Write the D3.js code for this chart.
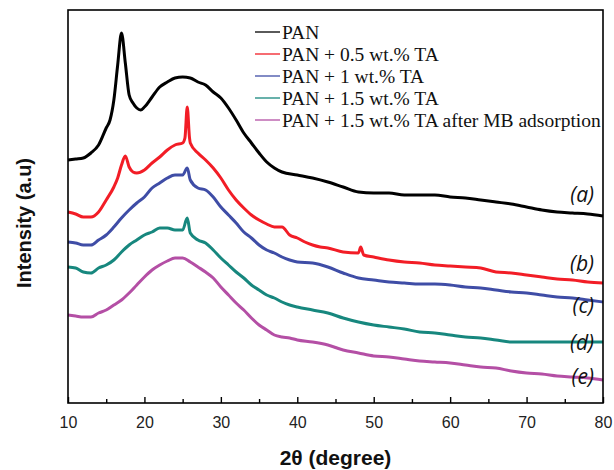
<!DOCTYPE html>
<html lang="en">
  <head>
    <meta charset="utf-8">
    <title>xrd</title>
    <script src="https://cdn.jsdelivr.net/npm/d3@7"></script>
    <style type="text/css">
      body { margin: 0; background: #fff; }
      .tick text { font-family: Arial, "Liberation Sans", sans-serif; font-size: 16px; fill: #222; }
      .axisTitle { font-family: Arial, "Liberation Sans", sans-serif; font-weight: bold; fill: #111; }
      .legendText { font-family: "Times New Roman", "Liberation Serif", serif; font-size: 19.5px; fill: #111; }
      .curveLabel { font-family: "Open Sans", sans-serif; font-style: italic; font-size: 21px; fill: #111; }
      .line { fill: none; stroke-width: 3; stroke-linejoin: round; }
    </style>
  </head>
  <body>
    <svg id="chart" width="614" height="470"></svg>
    <script type="text/javascript">
      // values: [2theta, intensity (a.u.)]
      var pan = [[10,243],[11,244],[12,245],[13,250],[14,258],[15,275],[15.5,283],[16,303],[16.5,338],[17,370],
        [17.5,340],[18,308],[18.5,300],[19,295],[19.5,293],[20,296],[21,306],[22,316],[23,321],[24,325],[25,326],
        [26,325],[27,321],[28,318],[29,311],[30,305],[31,295],[32,283],[33,270],[34,260],[35,250],[36,241],
        [37,235],[38,231],[40,228],[42,225],[44,221],[46,216],[48,211],[50,210],[52,210],[54,208],[56,208],
        [58,208],[60,206],[62,205],[64,203],[66,201],[68,199],[70,196],[72,193],[74,191],[76,190],[78,189],[80,187]];

      var ta05 = [[10,191],[11,189],[12,186],[13,186],[14,191],[15,203],[16,216],[16.5,225],[17,238],[17.5,247],
        [18,236],[18.5,231],[19,230],[20,233],[21,240],[22,246],[23,253],[24,258],[25,260],[25.3,265],[25.6,296],
        [25.9,265],[26,260],[27,250],[28,243],[29,235],[30,225],[31,213],[32,203],[33,195],[34,188],[35,183],
        [36,179],[37,176],[38,176],[39,168],[40,165],[41,161],[42,158],[43,156],[44,155],[46,151],[48,150],
        [48.3,156],[48.7,148],[50,146],[52,143],[54,141],[56,140],[58,138],[60,137],[62,136],[64,135],[66,131],
        [68,130],[70,128],[72,126],[74,124],[76,123],[78,121],[80,120]];

      var ta1 = [[10,161],[11,160],[12,158],[13,158],[14,163],[15,168],[16,176],[17,185],[18,193],[19,200],
        [20,206],[21,215],[22,220],[23,225],[24,228],[25,228],[25.6,235],[26,223],[27,215],[28,213],[29,206],
        [30,196],[31,188],[32,180],[33,171],[34,165],[35,158],[36,153],[37,150],[38,146],[39,143],[40,141],
        [42,140],[44,136],[46,130],[48,125],[50,123],[52,121],[54,120],[56,119],[58,119],[60,118],[62,116],
        [64,115],[66,113],[68,111],[70,110],[72,108],[74,106],[76,105],[78,103],[80,101]];

      var ta15 = [[10,136],[11,135],[12,131],[13,130],[14,135],[15,138],[16,143],[17,151],[18,158],[19,163],
        [20,168],[21,171],[22,175],[23,175],[24,173],[25,173],[25.6,185],[26,170],[27,163],[28,160],[29,153],
        [30,145],[31,138],[32,131],[33,125],[34,118],[35,113],[36,108],[37,105],[38,101],[39,98],[40,96],
        [42,93],[44,90],[46,85],[48,81],[50,78],[52,76],[54,74],[56,71],[58,70],[60,68],[62,66],[64,65],
        [66,63],[68,61],[70,61],[75,61],[80,61]];

      var ta15mb = [[10,88],[11,87],[12,86],[13,86],[14,90],[15,93],[16,98],[17,103],[18,110],[19,118],
        [20,126],[21,133],[22,138],[23,142],[24,145],[25,145],[26,141],[27,136],[28,131],[29,125],[30,116],
        [31,108],[32,100],[33,93],[34,85],[35,78],[36,73],[37,68],[38,66],[39,65],[40,63],[42,61],[44,58],
        [46,53],[48,50],[50,47],[52,46],[54,44],[56,42],[58,41],[60,40],[62,38],[64,36],[66,35],[68,32],
        [70,30],[72,29],[74,27],[76,26],[78,25],[80,23]];

      var seriesNames = ["PAN", "PAN + 0.5 wt.% TA", "PAN + 1 wt.% TA", "PAN + 1.5 wt.% TA",
        "PAN + 1.5 wt.% TA after MB adsorption"];
      var curveTags = ["(a)", "(b)", "(c)", "(d)", "(e)"];
      var colors = ["#000000", "#f21d26", "#3f4da6", "#17877e", "#b44fa5"];
      var xTicks = [10, 20, 30, 40, 50, 60, 70, 80];

      var allSeries = [pan, ta05, ta1, ta15, ta15mb];

      var svg = d3.select("#chart"),
        margin = {top: 10, right: 11, bottom: 67, left: 68},
        width = +svg.attr("width") - margin.left - margin.right,
        height = +svg.attr("height") - margin.top - margin.bottom;

      var x = d3.scaleLinear().domain([10, 80]).range([0, width]);
      var y = d3.scaleLinear().domain([0, 393]).range([height, 0]);

      var g = svg.append("g")
        .attr("transform", "translate(" + margin.left + "," + margin.top + ")");

      var line = d3.line()
        .x(function(d) { return x(d[0]); })
        .y(function(d) { return y(d[1]); })
        .curve(d3.curveMonotoneX);

      // curves, bottom one first
      for (var i = allSeries.length - 1; i >= 0; i--) {
        g.append("path")
          .datum(allSeries[i])
          .attr("class", "line")
          .attr("stroke", colors[i])
          .attr("d", line);
      }

      // frame
      g.append("rect")
        .attr("width", width)
        .attr("height", height)
        .attr("fill", "none")
        .attr("stroke", "#000")
        .attr("stroke-width", 1.6);

      // minor ticks (inward)
      g.append("g")
        .attr("transform", "translate(0," + height + ")")
        .call(d3.axisBottom(x).tickValues(d3.range(15, 80, 10)).tickSize(-4).tickFormat(""))
        .call(function(s) { s.select(".domain").remove(); })
        .selectAll("line").attr("stroke-width", 1.4);

      // major ticks + labels
      var xAxis = g.append("g")
        .attr("transform", "translate(0," + height + ")")
        .call(d3.axisBottom(x).tickValues(xTicks).tickSize(-6).tickPadding(14).tickFormat(d3.format("d")));
      xAxis.select(".domain").remove();
      xAxis.selectAll("line").attr("stroke-width", 1.4);

      // axis titles
      svg.append("text")
        .attr("class", "axisTitle")
        .attr("x", margin.left + width / 2)
        .attr("y", 465)
        .attr("text-anchor", "middle")
        .style("font-size", "21px")
        .text("2θ (degree)");

      svg.append("text")
        .attr("class", "axisTitle")
        .attr("transform", "translate(31,223) rotate(-90)")
        .attr("text-anchor", "middle")
        .style("font-size", "20px")
        .text("Intensity (a.u)");

      // legend
      var legend = g.append("g").attr("transform", "translate(187,22)");
      seriesNames.forEach(function(name, i) {
        legend.append("line")
          .attr("x1", 0).attr("x2", 25)
          .attr("y1", i * 22).attr("y2", i * 22)
          .attr("stroke", colors[i])
          .attr("stroke-width", 1.3);
        legend.append("text")
          .attr("class", "legendText")
          .attr("x", 27)
          .attr("y", i * 22)
          .attr("dy", "0.35em")
          .text(name);
      });

      // curve tags, placed over each curve's right end
      var tagY = [202, 271, 313, 350, 384];
      curveTags.forEach(function(t, i) {
        svg.append("text")
          .attr("class", "curveLabel")
          .attr("x", 594)
          .attr("y", tagY[i])
          .attr("text-anchor", "end")
          .text(t);
      });
    </script>
  </body>
</html>
